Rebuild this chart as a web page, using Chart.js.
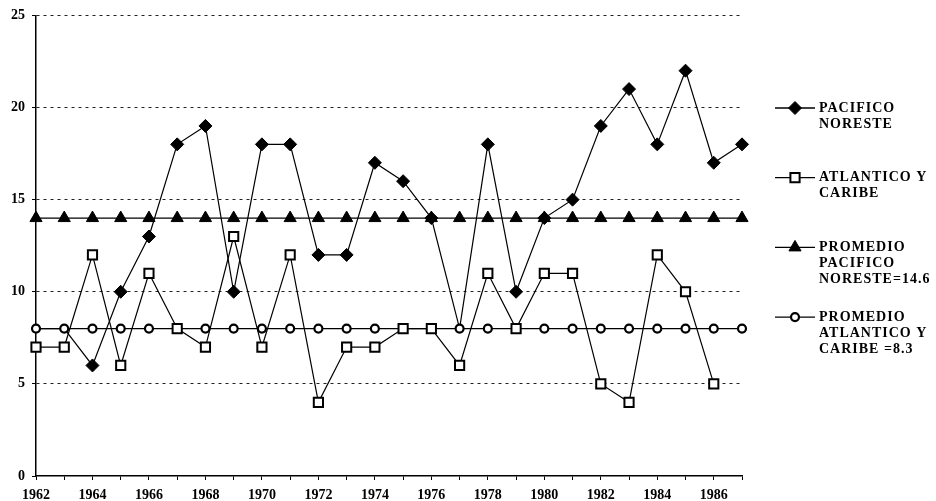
<!DOCTYPE html>
<html><head><meta charset="utf-8">
<script src="https://cdn.jsdelivr.net/npm/chart.js@4/dist/chart.umd.min.js"></script>
<style>html,body{margin:0;padding:0;background:#fff}#w{width:936px;height:501px;position:relative}</style>
</head><body><div id="w"><canvas id="c"></canvas></div>
<script>
const years = ['1962','1963','1964','1965','1966','1967','1968','1969','1970','1971','1972','1973','1974','1975','1976','1977','1978','1979','1980','1981','1982','1983','1984','1985','1986','1987'];
const pacificoNoreste = [8,8,6,10,13,18,19,10,18,18,12,12,17,16,14,8,18,10,14,15,19,21,18,22,17,18];
const atlanticoCaribe = [7,7,12,6,11,8,7,13,7,12,4,7,7,8,8,6,11,8,11,11,5,4,12,10,5,null];
const promedioPacifico = [14,14,14,14,14,14,14,14,14,14,14,14,14,14,14,14,14,14,14,14,14,14,14,14,14,14];
const promedioAtlantico = [8,8,8,8,8,8,8,8,8,8,8,8,8,8,8,8,8,8,8,8,8,8,8,8,8,8];
const seriesNames = ['PACIFICO NORESTE','ATLANTICO Y CARIBE','PROMEDIO PACIFICO NORESTE=14.6','PROMEDIO ATLANTICO Y CARIBE =8.3'];
const legendLines = [['PACIFICO','NORESTE'],['ATLANTICO Y','CARIBE'],['PROMEDIO','PACIFICO','NORESTE=14.6'],['PROMEDIO','ATLANTICO Y','CARIBE =8.3']];
const yTicks = [0,5,10,15,20,25];

const serif = '"Liberation Serif", "DejaVu Serif", serif';

function drawMarker(ctx, style, x, y){
  ctx.save();
  ctx.strokeStyle = '#000';
  ctx.beginPath();
  if (style === 'rectRot'){
    ctx.fillStyle='#000'; ctx.lineWidth=1;
    ctx.moveTo(x-6.5,y); ctx.lineTo(x,y-6.5); ctx.lineTo(x+6.5,y); ctx.lineTo(x,y+6.5); ctx.closePath();
    ctx.fill(); ctx.stroke();
  } else if (style === 'rect'){
    ctx.fillStyle='#fff'; ctx.lineWidth=2;
    ctx.rect(x-4.6,y-4.6,9.2,9.2); ctx.fill(); ctx.stroke();
  } else if (style === 'triangle'){
    ctx.fillStyle='#000'; ctx.lineWidth=1;
    ctx.moveTo(x, y-7); ctx.lineTo(x+6.06, y+3.5); ctx.lineTo(x-6.06, y+3.5); ctx.closePath();
    ctx.fill(); ctx.stroke();
  } else {
    ctx.fillStyle='#fff'; ctx.lineWidth=2.2;
    ctx.arc(x,y,4,0,Math.PI*2); ctx.fill(); ctx.stroke();
  }
  ctx.restore();
}

const sideLegend = {
  id:'sideLegend',
  afterDraw(chart){
    const ctx = chart.ctx;
    ctx.save();
    chart.data.datasets.forEach((ds,i)=>{
      const y = 108 + i*69.7;
      ctx.strokeStyle='#000'; ctx.lineWidth=1.3;
      ctx.beginPath(); ctx.moveTo(775,y); ctx.lineTo(815,y); ctx.stroke();
      drawMarker(ctx, ds.pointStyle, 795, y);
      ctx.fillStyle='#000';
      ctx.font = 'bold 14px ' + serif;
      try { ctx.letterSpacing = '1px'; } catch(e){}
      ctx.textBaseline='middle'; ctx.textAlign='left';
      legendLines[i].forEach((t,j)=>ctx.fillText(t, 819, y + j*16));
    });
    ctx.restore();
  }
};

const whiteBg = {
  id:'whiteBg',
  beforeDraw(chart){ const c=chart.ctx; c.save(); c.fillStyle='#fff'; c.fillRect(0,0,chart.width,chart.height); c.restore(); }
};

// diamonds that coincide with an average circle are hidden behind it, as in the original
const diamondRadius = (c) => (pacificoNoreste[c.dataIndex] === promedioAtlantico[c.dataIndex]) ? 0 : 6.5;

new Chart(document.getElementById('c'), {
  type:'line',
  data:{
    labels: years,
    datasets:[
      {label:seriesNames[0], data:pacificoNoreste, order:2, borderColor:'#000', borderWidth:1.2, pointStyle:'rectRot', pointRadius:diamondRadius, pointBackgroundColor:'#000', pointBorderColor:'#000', pointBorderWidth:1, tension:0, fill:false, clip:false},
      {label:seriesNames[1], data:atlanticoCaribe, order:0, borderColor:'#000', borderWidth:1.2, pointStyle:'rect', pointRadius:6.5, pointBackgroundColor:'#fff', pointBorderColor:'#000', pointBorderWidth:2, tension:0, fill:false, clip:false},
      {label:seriesNames[2], data:promedioPacifico, order:3, borderColor:'#000', borderWidth:1.2, pointStyle:'triangle', pointRadius:7, pointBackgroundColor:'#000', pointBorderColor:'#000', pointBorderWidth:1, tension:0, fill:false, clip:false},
      {label:seriesNames[3], data:promedioAtlantico, order:1, borderColor:'#000', borderWidth:1.2, pointStyle:'circle', pointRadius:4, pointBackgroundColor:'#fff', pointBorderColor:'#000', pointBorderWidth:2.2, tension:0, fill:false, clip:false}
    ]
  },
  options:{
    responsive:true, maintainAspectRatio:false, animation:false,
    layout:{padding:{top:15,right:194,left:0,bottom:0}},
    plugins:{legend:{display:false}, tooltip:{enabled:false}},
    scales:{
      x:{
        type:'category', offset:false,
        grid:{drawOnChartArea:false, drawTicks:true, tickLength:4, tickColor:'#000', tickWidth:1},
        border:{display:true, color:'#000', width:1.5},
        ticks:{autoSkip:false, maxRotation:0, padding:7, color:'#000', font:{family:serif, size:14, weight:'bold'},
          callback:function(v,i){ return (i%2===0) ? this.getLabelForValue(v) : ''; }},
        afterFit(s){ s.height = 25; }
      },
      y:{
        min:0, max:25,
        afterBuildTicks(s){ s.ticks = yTicks.map(v=>({value:v})); },
        grid:{color:(c)=> c.tick && c.tick.value===0 ? 'rgba(0,0,0,0)' : '#222', lineWidth:1, tickLength:4, tickColor:'#000'},
        border:{display:true, color:'#000', width:1.5, dash:[3,4]},
        ticks:{padding:7, color:'#000', font:{family:serif, size:14, weight:'bold'}},
        afterFit(s){ s.width = 36; }
      }
    }
  },
  plugins:[whiteBg, sideLegend]
});
</script>
</body></html>
